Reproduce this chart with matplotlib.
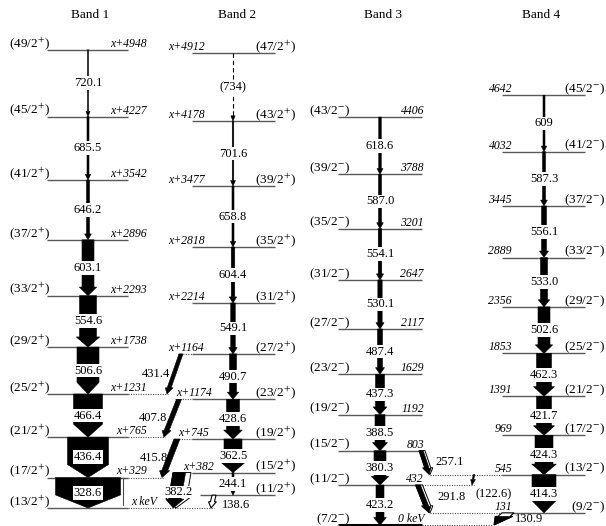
import numpy as np
import matplotlib.pyplot as plt
from matplotlib.patches import Polygon

plt.rcParams['font.family'] = ['Liberation Serif', 'DejaVu Serif']
plt.rcParams['mathtext.fontset'] = 'stix'

# ---------------- level scheme data ----------------
band_names = ["Band 1", "Band 2", "Band 3", "Band 4"]

band1_spin = ["13/2", "17/2", "21/2", "25/2", "29/2", "33/2", "37/2", "41/2", "45/2", "49/2"]
band1_energy = [0, 329, 765, 1231, 1738, 2293, 2896, 3542, 4227, 4948]   # relative to x
band1_gamma = ["328.6", "436.4", "466.4", "506.6", "554.6", "603.1", "646.2", "685.5", "720.1"]
band1_intensity = [65, 41, 29, 22, 17, 12, 3, 2, 1]

band2_spin = ["11/2", "15/2", "19/2", "23/2", "27/2", "31/2", "35/2", "39/2", "43/2", "47/2"]
band2_energy = [138, 382, 745, 1174, 1664, 2214, 2818, 3477, 4178, 4912]  # relative to x
band2_elabel = ["", "x+382", "x+745", "x+1174", "x+1164", "x+2214", "x+2818", "x+3477", "x+4178", "x+4912"]
band2_gamma = ["244.1", "362.5", "428.6", "490.7", "549.1", "604.4", "658.8", "701.6", "(734)"]
band2_intensity = [2, 18, 13, 7, 4.5, 3.5, 2, 1.5, 1]

band3_spin = ["7/2", "11/2", "15/2", "19/2", "23/2", "27/2", "31/2", "35/2", "39/2", "43/2"]
band3_energy = [0, 432, 803, 1192, 1629, 2117, 2647, 3201, 3788, 4406]
band3_gamma = ["423.2", "380.3", "388.5", "437.3", "487.4", "530.1", "554.1", "587.0", "618.6"]
band3_intensity = [8, 12, 10, 9, 5, 4.3, 3.5, 3, 2.5]

band4_spin = ["9/2", "13/2", "17/2", "21/2", "25/2", "29/2", "33/2", "37/2", "41/2", "45/2"]
band4_energy = [131, 545, 969, 1391, 1853, 2356, 2889, 3445, 4032, 4642]
band4_gamma = ["414.3", "424.3", "421.7", "462.3", "502.6", "533.0", "556.1", "587.3", "609"]
band4_intensity = [24, 18, 15, 15, 12, 7, 5, 3, 2]

# linking transitions between bands
cross_label = ["431.4", "407.8", "415.8", "382.2", "138.6", "257.1", "291.8", "(122.6)", "130.9"]
cross_from_band = [2, 2, 2, 2, 2, 3, 3, 4, 4]
cross_from_e = [1664, 1174, 745, 382, 138, 803, 432, 545, 131]
cross_to_band = [1, 1, 1, 1, 1, 4, 4, 3, 3]
cross_to_e = [1231, 765, 329, 0, 0, 545, 131, 432, 0]
cross_intensity = [4, 5, 6, 18, 4, 6, 7, 1.5, 12]

# ---------------- layout ----------------
KEV_PER_PX = 10.8
X_SHIFT = 184          # where the unknown "x keV" is drawn
TXT = 3 * KEV_PER_PX   # label baseline above level line

band_x = [88, 233, 380, 544]
band_span = [(47, 128), (192, 275), (338, 422), (502, 585)]
band_title_x = [90, 237, 383, 541]

cross_x = [(181, 167), (179, 164), (177, 162), (182, 176), (214, 211),
           (422, 430), (419, 430), (474, 472), (508, 494)]
cross_style = ['solid', 'solid', 'solid', 'split', 'open', 'split', 'split', 'solid', 'openhead']
cross_label_px = [(156, 374), (153, 418), (154, 458), (178.5, 492), (222, 505),
                  (450, 462), (452, 497), (494, 494), (529, 519)]


def px2e(y):
    return (525 - y) * KEV_PER_PX


def abs_e(band, e):
    return e + X_SHIFT if band in (1, 2) else e


def arrow(ax, x1, e1, x2, e2, w, fc='k', ec='k', lw=0.4, z=3, shaft=True):
    hw = w if w >= 22 else w * 1.2 + 3
    hl = min(5 + 0.3 * w, 13)
    p1, p2 = e1 / KEV_PER_PX, e2 / KEV_PER_PX
    t = 1 - hl / (p1 - p2)
    xb = x1 + (x2 - x1) * t
    eb = (p1 + (p2 - p1) * t) * KEV_PER_PX
    if shaft:
        pts = [(x1 - w / 2, e1), (x1 + w / 2, e1), (xb + w / 2, eb), (xb + hw / 2, eb),
               (x2, e2), (xb - hw / 2, eb), (xb - w / 2, eb)]
    else:
        pts = [(xb + hw / 2, eb), (x2, e2), (xb - hw / 2, eb)]
    ax.add_patch(Polygon(pts, closed=True, fc=fc, ec=ec, lw=lw, zorder=z, joinstyle='miter'))
    return xb, eb


def level(ax, xa, xb, e, lw=1.0, ls='-', color='0.35'):
    ax.plot([xa, xb], [e, e], color=color, lw=lw, ls=ls, zorder=2, solid_capstyle='butt')


def glabel(ax, x, e, s, **kw):
    ax.text(x, e, s, ha='center', va='center', fontsize=9, zorder=6,
            bbox=dict(fc='white', ec='none', pad=0.6), **kw)


fig = plt.figure(figsize=(6.06, 5.26), dpi=100)
ax = fig.add_axes([0, 0, 1, 1])
ax.set_xlim(0, 606)
ax.set_ylim(px2e(526), px2e(0))
ax.axis('off')

for name, x in zip(band_names, band_title_x):
    ax.text(x, px2e(15), name, ha='center', va='center', fontsize=9.5)

bands = [
    (band1_spin, band1_energy, band1_gamma, band1_intensity, '+'),
    (band2_spin, band2_energy, band2_gamma, band2_intensity, '+'),
    (band3_spin, band3_energy, band3_gamma, band3_intensity, '-'),
    (band4_spin, band4_energy, band4_gamma, band4_intensity, '-'),
]

for b, (spins, energies, gammas, intens, par) in enumerate(bands, start=1):
    xa, xb = band_span[b - 1]
    xc = band_x[b - 1]
    es = [abs_e(b, e) for e in energies]
    for i, (s, e) in enumerate(zip(spins, es)):
        spin_txt = f"({s}$^{{{par}}}$)"
        raw = energies[i]
        if b == 1:
            level(ax, xa, xb, e)
            ax.text(50, e + TXT, spin_txt, ha='right', va='baseline', fontsize=9.5)
            etxt = "x keV" if raw == 0 else f"x+{raw}"
            ax.text(157 if raw == 0 else 147, e + TXT, etxt, ha='right', va='baseline',
                    fontsize=8.5, style='italic')
        elif b == 2:
            level(ax, 200 if i == 0 else xa, xb, e)
            ax.text(296, e + TXT, spin_txt, ha='right', va='baseline', fontsize=9.5)
            shift = {1174: 8, 745: 10, 382: 15}.get(raw, 0)
            ax.text(168 + shift, e + TXT, band2_elabel[i], ha='left', va='baseline',
                    fontsize=8.5, style='italic')
        elif b == 3:
            if raw == 0:
                level(ax, xa, xb, e, lw=2.2, color='k')
            else:
                level(ax, xa, xb, e)
            ax.text(350, e + TXT, spin_txt, ha='right', va='baseline', fontsize=9.5)
            etxt = "0 keV" if raw == 0 else f"{raw}"
            ax.text(424, e + TXT, etxt, ha='right', va='baseline', fontsize=8.5, style='italic')
        else:
            level(ax, xa, xb, e)
            ax.text(605, e + TXT, spin_txt, ha='right', va='baseline', fontsize=9.5)
            ax.text(512, e + TXT, f"{raw}", ha='right', va='baseline', fontsize=8.5, style='italic')

    for i, (g, w) in enumerate(zip(gammas, intens)):
        e_top, e_bot = es[i + 1], es[i]
        if g.startswith("("):
            xb_, eb_ = arrow(ax, xc, e_top, xc, e_bot, w, shaft=False)
            ax.plot([xc, xc], [e_top, eb_], color='k', lw=0.8, ls=(0, (4, 2.5)), zorder=3)
        else:
            arrow(ax, xc, e_top, xc, e_bot, w)
        glabel(ax, xc, (e_top + e_bot) / 2, g)

# dotted level extensions towards linking transitions
dotted = [(1, 1231, 128, 168), (1, 765, 128, 165), (1, 329, 128, 163), (1, 0, 128, 214),
          (2, 1664, 178, 192), (2, 1174, 175, 192), (2, 745, 174, 192), (2, 382, 172, 192),
          (4, 545, 430, 502), (3, 432, 422, 474), (4, 131, 430, 502), (3, 0, 422, 492)]
for b, e, x0, x1 in dotted:
    level(ax, x0, x1, abs_e(b, e), lw=0.8, ls=(0, (1, 1.2)), color='0.3')

# small side marker next to the lowest band 1 transition
ax.plot([123, 123], [abs_e(1, 329), abs_e(1, 30)], color='0.3', lw=0.8, zorder=2)
ax.plot([121, 125], [abs_e(1, 329), abs_e(1, 329)], color='0.3', lw=0.8, zorder=2)

for k, lab in enumerate(cross_label):
    e1 = abs_e(cross_from_band[k], cross_from_e[k])
    e2 = abs_e(cross_to_band[k], cross_to_e[k])
    x1, x2 = cross_x[k]
    w = cross_intensity[k]
    st = cross_style[k]
    if st == 'solid':
        arrow(ax, x1, e1, x2, e2, w)
    elif st == 'split':
        arrow(ax, x1, e1, x2, e2, w, fc='white', ec='k', lw=0.7)
        wb = w * 0.7
        d = (w - wb) / 2
        arrow(ax, x1 - d, e1, x2 - d, e2, wb, z=4)
    elif st == 'open':
        arrow(ax, x1, e1, x2, e2, w, fc='white', ec='k', lw=0.8)
    else:
        arrow(ax, x1, e1, x2, e2, w, fc='white', ec='k', lw=0.8)
        arrow(ax, x1, e1, x2, e2, w, shaft=False, z=4)
    lx, ly = cross_label_px[k]
    ha = 'left' if lab == "138.6" else 'center'
    ax.text(lx, px2e(ly), lab, ha=ha, va='center', fontsize=9, zorder=6,
            bbox=dict(fc='white', ec='none', pad=0.3) if lab == "382.2" else None)

fig.savefig("out.png", dpi=100)
